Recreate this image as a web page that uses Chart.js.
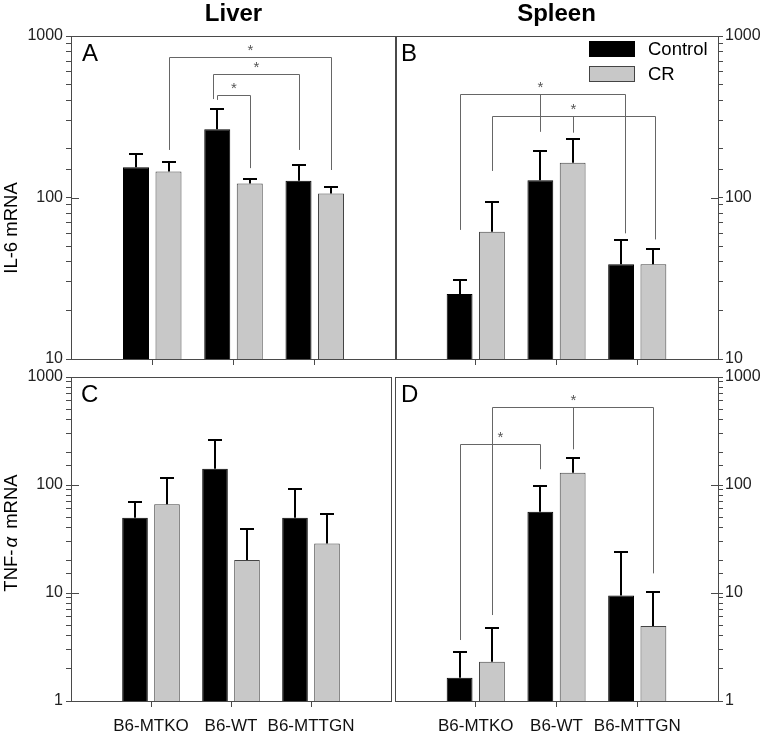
<!DOCTYPE html>
<html>
<head>
<meta charset="utf-8">
<script src="https://cdn.jsdelivr.net/npm/chart.js@4/dist/chart.umd.min.js"></script>
<style>
  body { margin: 0; background: #fff; }
  #wrap { position: relative; width: 761px; height: 733px; overflow: hidden; }
  canvas { position: absolute; }
</style>
</head>
<body>
<div id="wrap">
  <canvas id="liverIL6" width="400" height="372" style="left:0px;top:0px"></canvas>
  <canvas id="spleenIL6" width="381" height="372" style="left:380px;top:0px"></canvas>
  <canvas id="liverTNF" width="400" height="369" style="left:0px;top:364px"></canvas>
  <canvas id="spleenTNF" width="381" height="369" style="left:380px;top:364px"></canvas>
</div>
<script>
const groups = ['B6-MTKO', 'B6-WT', 'B6-MTTGN'];
const seriesNames = ['Control', 'CR'];

// IL-6 mRNA, liver (panel A)
const liverIL6Control = [154, 265, 127];
const liverIL6ControlUpper = [185, 353, 160];
const liverIL6CR = [145, 122, 106];
const liverIL6CRUpper = [167, 130, 116];

// IL-6 mRNA, spleen (panel B)
const spleenIL6Control = [25.3, 128, 38.6];
const spleenIL6ControlUpper = [30.8, 194, 54.8];
const spleenIL6CR = [61.4, 164, 38.6];
const spleenIL6CRUpper = [93.3, 231, 47.8];

// TNF-a mRNA, liver (panel C)
const liverTNFControl = [49.8, 141.6, 49.8];
const liverTNFControlUpper = [69, 263, 91.8];
const liverTNFCR = [66.3, 20.2, 28.8];
const liverTNFCRUpper = [117, 39.1, 53.5];

// TNF-a mRNA, spleen (panel D)
const spleenTNFControl = [1.64, 56.6, 9.5];
const spleenTNFControlUpper = [2.86, 98.6, 24];
const spleenTNFCR = [2.31, 130, 4.95];
const spleenTNFCRUpper = [4.71, 176, 10.3];

const il6TickLabels = [10, 100, 1000];
const tnfTickLabels = [1, 10, 100, 1000];

// significance brackets: legs at [group, series], value of the top line, values at the leg feet, optional stem
const liverIL6Brackets = [
  { a: [0, 1], b: [2, 1], top: 741, feet: [197, 148] },
  { a: [1, 0], b: [2, 0], top: 582, feet: [407, 197] },
  { a: [1, 0], b: [1, 1], top: 431, feet: [402, 152] }
];
const spleenIL6Brackets = [
  { a: [0, 0], b: [2, 0], top: 435, feet: [63, 60], stem: [1, 0, 255] },
  { a: [0, 1], b: [2, 1], top: 318, feet: [146, 55], stem: [1, 1, 252] }
];
const spleenTNFBrackets = [
  { a: [0, 0], b: [1, 0], top: 240, feet: [3.67, 140] },
  { a: [0, 1], b: [2, 1], top: 531, feet: [6.25, 15.2], stem: [1, 1, 214] }
];

const FONT = '"Liberation Sans", Arial, Helvetica, sans-serif';
const FRAME = '#4a4a4a';
const pad = arr => [null, ...arr, null];

function drawDecor(chart, c) {
  const o = c.decor;
  const ctx = chart.ctx;
  const area = chart.chartArea;
  const ys = chart.scales.y;
  const barAt = (g, s) => chart.getDatasetMeta(s).data[g + 1];
  ctx.save();

  // error bars (upper only)
  o.upper.forEach((ups, s) => {
    ups.forEach((u, g) => {
      const bar = barAt(g, s);
      const bx = Math.round(bar.x);
      const yu = Math.round(ys.getPixelForValue(u));
      ctx.strokeStyle = '#000';
      ctx.lineWidth = 2;
      ctx.beginPath();
      ctx.moveTo(bx, bar.y);
      ctx.lineTo(bx, yu);
      ctx.moveTo(bx - 7, yu);
      ctx.lineTo(bx + 7, yu);
      ctx.stroke();
    });
  });

  // brackets
  (o.brackets || []).forEach((br, k) => {
    const nd = (o.nudge && o.nudge[k]) || [0, 0];
    const xa = Math.round(barAt(br.a[0], br.a[1]).x + nd[0]) + 0.5;
    const xb = Math.round(barAt(br.b[0], br.b[1]).x + nd[1]) + 0.5;
    const yt = Math.round(ys.getPixelForValue(br.top)) + 0.5;
    ctx.strokeStyle = '#666';
    ctx.lineWidth = 1;
    ctx.beginPath();
    ctx.moveTo(xa, ys.getPixelForValue(br.feet[0]));
    ctx.lineTo(xa, yt);
    ctx.lineTo(xb, yt);
    ctx.lineTo(xb, ys.getPixelForValue(br.feet[1]));
    let sx = (xa + xb) / 2;
    if (br.stem) {
      sx = Math.round(barAt(br.stem[0], br.stem[1]).x) + 0.5;
      ctx.moveTo(sx, yt);
      ctx.lineTo(sx, ys.getPixelForValue(br.stem[2]));
    }
    ctx.stroke();
    ctx.fillStyle = '#555';
    ctx.font = '15px ' + FONT;
    ctx.textAlign = 'center';
    ctx.textBaseline = 'middle';
    ctx.fillText('*', sx, yt - 7);
  });

  // frame
  const L = Math.round(area.left), T = Math.round(area.top);
  const R = Math.round(area.right), B = Math.round(area.bottom);
  ctx.fillStyle = FRAME;
  ctx.fillRect(L, T, R - L + 1, 1);
  ctx.fillRect(L, B, R - L + 1, 1);
  ctx.fillRect(L, T, 1, B - T + 1);
  ctx.fillRect(R, T, 1, B - T + 1);

  // inward marks at each decade
  c.yLabels.forEach(v => {
    const py = Math.round(ys.getPixelForValue(v));
    if (o.yLeft) ctx.fillRect(L, py, 8, 1);
    else ctx.fillRect(R - 7, py, 8, 1);
  });

  // panel letter
  ctx.fillStyle = '#000';
  ctx.font = '24px ' + FONT;
  ctx.textAlign = 'left';
  ctx.textBaseline = 'alphabetic';
  ctx.fillText(o.letter, area.left + o.letterDx, area.top + 25);

  // legend
  if (o.legend) {
    ctx.font = '18.5px ' + FONT;
    chart.data.datasets.forEach((ds, i) => {
      const bx = area.right - 129, by = area.top + 5 + i * 25;
      ctx.fillStyle = ds.backgroundColor;
      ctx.fillRect(bx, by, 46, 16);
      ctx.strokeStyle = ds.borderColor;
      ctx.lineWidth = 1;
      ctx.strokeRect(bx + 0.5, by + 0.5, 45, 15);
      ctx.fillStyle = '#000';
      ctx.fillText(ds.label, area.right - 70, by + 14);
    });
  }

  // y axis title
  if (o.yTitle) {
    ctx.translate(o.yTitle.x, area.top + o.yTitle.dy);
    ctx.rotate(-Math.PI / 2);
    ctx.fillStyle = '#000';
    ctx.textBaseline = 'middle';
    ctx.textAlign = 'left';
    const parts = o.yTitle.parts.map(p => {
      ctx.font = (p.italic ? 'italic ' : '') + '18.5px ' + FONT;
      return { text: p.text, font: ctx.font, w: ctx.measureText(p.text).width + (p.gap || 0) };
    });
    let tx = -parts.reduce((a, p) => a + p.w, 0) / 2;
    parts.forEach(p => {
      ctx.font = p.font;
      ctx.fillText(p.text, tx, 0);
      tx += p.w;
    });
  }
  ctx.restore();
}

function makePanel(id, c) {
  const left = c.decor.yLeft;
  return new Chart(document.getElementById(id), {
    type: 'bar',
    data: {
      labels: ['', ...groups, ''],
      datasets: [
        { label: seriesNames[0], data: pad(c.control), backgroundColor: '#000000', borderColor: '#000000',
          borderWidth: 1, categoryPercentage: 0.8, barPercentage: 0.8 },
        { label: seriesNames[1], data: pad(c.cr), backgroundColor: '#c8c8c8', borderColor: '#444444',
          borderWidth: 1, categoryPercentage: 0.8, barPercentage: 0.8 }
      ]
    },
    options: {
      responsive: false,
      animation: false,
      devicePixelRatio: 1,
      layout: { padding: c.padding },
      plugins: {
        legend: { display: false },
        tooltip: { enabled: false },
        title: c.title ? {
          display: true, text: c.title, fullSize: false, color: '#000',
          font: { family: FONT, size: 24, weight: 'bold', lineHeight: 1.2 },
          padding: { top: 0, bottom: 7.2 }
        } : { display: false }
      },
      scales: {
        x: {
          type: 'category', offset: false,
          grid: {
            display: true, drawOnChartArea: false, drawTicks: true, tickLength: 6, offset: false,
            color: ctx => (ctx.index === 0 || ctx.index === groups.length + 1) ? 'rgba(0,0,0,0)' : FRAME
          },
          border: { display: false },
          ticks: { display: c.showX, autoSkip: false, maxRotation: 0, minRotation: 0, padding: 9,
                   color: '#111', font: { family: FONT, size: 17 } },
          afterFit: s => { s.height = c.xHeight; }
        },
        y: {
          type: 'logarithmic', position: left ? 'left' : 'right',
          min: c.yMin, max: c.yMax,
          grid: { display: true, drawOnChartArea: false, drawTicks: true, tickLength: 5, color: FRAME, lineWidth: 1 },
          border: { display: false },
          ticks: {
            autoSkip: false, padding: left ? 3 : 2, color: '#222',
            font: { family: FONT, size: 16 },
            callback: v => {
              const r = Math.round(v);
              return Math.abs(v - r) < 1e-6 && c.yLabels.includes(r) ? String(r) : '';
            }
          },
          afterFit: s => { s.width = c.yWidth; }
        }
      }
    },
    plugins: [{ id: 'decor' + id, afterDraw: chart => drawDecor(chart, c) }]
  });
}

makePanel('liverIL6', {
  control: liverIL6Control, cr: liverIL6CR, yMin: 10, yMax: 1000, yLabels: il6TickLabels,
  title: 'Liver', padding: { right: 4 }, xHeight: 13, yWidth: 71, showX: false,
  decor: {
    upper: [liverIL6ControlUpper, liverIL6CRUpper], brackets: liverIL6Brackets, nudge: [[0, 0], [-4, 0], [0, 0]],
    yLeft: true, letter: 'A', letterDx: 11,
    yTitle: { x: 12, dy: 192, parts: [{ text: 'IL-6 mRNA' }] }
  }
});

makePanel('spleenIL6', {
  control: spleenIL6Control, cr: spleenIL6CR, yMin: 10, yMax: 1000, yLabels: il6TickLabels,
  title: 'Spleen', padding: { left: 15 }, xHeight: 13, yWidth: 43, showX: false,
  decor: {
    upper: [spleenIL6ControlUpper, spleenIL6CRUpper], brackets: spleenIL6Brackets, nudge: [[0, 4], [0, 2]],
    yLeft: false, letter: 'B', letterDx: 6, legend: true
  }
});

makePanel('liverTNF', {
  control: liverTNFControl, cr: liverTNFCR, yMin: 1, yMax: 1000, yLabels: tnfTickLabels,
  padding: { top: 13, right: 4 }, xHeight: 32, yWidth: 71, showX: true,
  decor: {
    upper: [liverTNFControlUpper, liverTNFCRUpper], brackets: [],
    yLeft: true, letter: 'C', letterDx: 10,
    yTitle: { x: 12, dy: 156, parts: [{ text: 'TNF-', gap: 2 }, { text: 'α', italic: true, gap: 3 }, { text: ' mRNA' }] }
  }
});

makePanel('spleenTNF', {
  control: spleenTNFControl, cr: spleenTNFCR, yMin: 1, yMax: 1000, yLabels: tnfTickLabels,
  padding: { top: 13, left: 15 }, xHeight: 32, yWidth: 43, showX: true,
  decor: {
    upper: [spleenTNFControlUpper, spleenTNFCRUpper], brackets: spleenTNFBrackets,
    yLeft: false, letter: 'D', letterDx: 6
  }
});
</script>
</body>
</html>
